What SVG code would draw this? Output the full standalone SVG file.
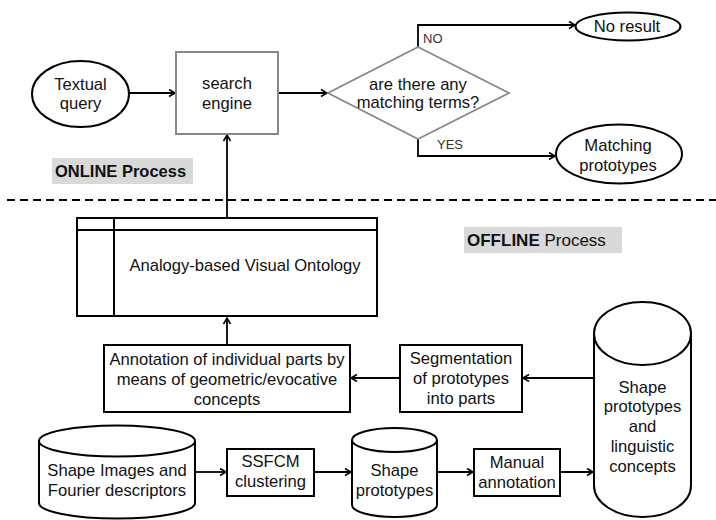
<svg xmlns="http://www.w3.org/2000/svg" width="716" height="520" viewBox="0 0 716 520">
<defs>
<marker id="arr" markerWidth="9" markerHeight="9" refX="7" refY="4" orient="auto" markerUnits="userSpaceOnUse">
<path d="M1,0.5 L7,4 L1,7.5" fill="none" stroke="#000" stroke-width="1.6"/>
</marker>
</defs>
<style>
text{font-family:"Liberation Sans",Arial,sans-serif;font-size:16.6px;fill:#111;text-anchor:middle}
.box{fill:#fff;stroke:#000;stroke-width:2}
.gbox{fill:#fff;stroke:#888;stroke-width:2}
.edge{fill:none;stroke:#000;stroke-width:1.8;marker-end:url(#arr)}
.lbl{font-size:13px;fill:#333;text-anchor:start}
.tag{fill:#d9d9d9}
.tagt{font-size:17px;font-weight:bold;text-anchor:start;fill:#111}
</style>
<rect width="716" height="520" fill="#fff"/>

<g id="connectors">
<line class="edge" x1="129" y1="93" x2="175" y2="93"/>
<line class="edge" x1="278" y1="93" x2="327" y2="93"/>
<polyline class="edge" points="418,47 418,25 575,25"/>
<polyline class="edge" points="418,139 418,156 555,156"/>
<line class="edge" x1="227" y1="218" x2="227" y2="135"/>
<line class="edge" x1="227" y1="345" x2="227" y2="318"/>
<line class="edge" x1="594" y1="378" x2="523" y2="378"/>
<line class="edge" x1="400" y1="378" x2="351" y2="378"/>
<line class="edge" x1="195" y1="472" x2="226" y2="472"/>
<line class="edge" x1="314" y1="472" x2="351" y2="472"/>
<line class="edge" x1="437" y1="472" x2="473" y2="472"/>
<line class="edge" x1="560" y1="472" x2="593" y2="472"/>
</g>

<g id="divider">
<line x1="7" y1="200" x2="716" y2="200" stroke="#000" stroke-width="1.8" stroke-dasharray="8,5"/>
</g>

<g id="online-label">
<rect class="tag" x="52" y="158" width="141" height="26"/>
<text class="tagt" x="55" y="177" style="font-size:16.5px">ONLINE Process</text>
</g>

<g id="offline-label">
<rect class="tag" x="464" y="227" width="158" height="26"/>
<text class="tagt" x="467" y="246">OFFLINE <tspan font-weight="normal">Process</tspan></text>
</g>

<g id="textual-query">
<ellipse class="box" cx="80.5" cy="94" rx="48.5" ry="33"/>
<text x="80.5" y="90">Textual</text>
<text x="80.5" y="109">query</text>
</g>

<g id="search-engine">
<rect class="gbox" x="176" y="52" width="102" height="82"/>
<text x="227" y="89">search</text>
<text x="227" y="109">engine</text>
</g>

<g id="decision">
<polygon points="418,47 509,93 418,139 328,93" fill="#fff" stroke="#888" stroke-width="1.8"/>
<text x="418" y="90">are there any</text>
<text x="418" y="108">matching terms?</text>
</g>

<g id="no-label"><text class="lbl" x="423" y="43">NO</text></g>
<g id="yes-label"><text class="lbl" x="437" y="149">YES</text></g>

<g id="no-result">
<ellipse class="box" cx="628" cy="26.5" rx="52.5" ry="14"/>
<text x="627" y="32">No result</text>
</g>

<g id="matching-prototypes">
<ellipse class="box" cx="619" cy="154" rx="63" ry="29.5"/>
<text x="618" y="151">Matching</text>
<text x="618" y="171">prototypes</text>
</g>

<g id="ontology">
<rect class="box" x="77" y="218" width="300" height="98"/>
<line x1="77" y1="230" x2="377" y2="230" stroke="#000" stroke-width="2"/>
<line x1="114" y1="218" x2="114" y2="316" stroke="#000" stroke-width="2"/>
<text x="245" y="271">Analogy-based Visual Ontology</text>
</g>

<g id="annotation">
<rect class="box" x="104" y="345" width="246" height="67"/>
<text x="227" y="365">Annotation of individual parts by</text>
<text x="227" y="385">means of geometric/evocative</text>
<text x="227" y="405">concepts</text>
</g>

<g id="segmentation">
<rect class="box" x="400" y="345" width="122" height="67"/>
<text x="461" y="364">Segmentation</text>
<text x="461" y="384">of prototypes</text>
<text x="461" y="404">into parts</text>
</g>

<g id="shape-images">
<path class="box" d="M39,441 L39,503 A78,15.5 0 0 0 195,503 L195,441"/>
<ellipse class="box" cx="117" cy="441" rx="78" ry="15.5"/>
<text x="117" y="476">Shape Images and</text>
<text x="117" y="496">Fourier descriptors</text>
</g>

<g id="ssfcm">
<rect class="box" x="227" y="449" width="87" height="47"/>
<text x="270.5" y="467">SSFCM</text>
<text x="270.5" y="487">clustering</text>
</g>

<g id="shape-prototypes">
<path class="box" d="M352,440 L352,505 A42.5,12 0 0 0 437,505 L437,440"/>
<ellipse class="box" cx="394.5" cy="440" rx="42.5" ry="12"/>
<text x="394.5" y="476">Shape</text>
<text x="394.5" y="496">prototypes</text>
</g>

<g id="manual-annotation">
<rect class="box" x="474" y="449" width="86" height="47"/>
<text x="517" y="468">Manual</text>
<text x="517" y="488">annotation</text>
</g>

<g id="shape-prototypes-concepts">
<path class="box" d="M594,333.5 L594,485.5 A48.5,31.5 0 0 0 691,485.5 L691,333.5"/>
<ellipse class="box" cx="642.5" cy="333.5" rx="48.5" ry="31.5"/>
<text x="642.5" y="393">Shape</text>
<text x="642.5" y="412">prototypes</text>
<text x="642.5" y="432">and</text>
<text x="642.5" y="452">linguistic</text>
<text x="642.5" y="472">concepts</text>
</g>
</svg>
